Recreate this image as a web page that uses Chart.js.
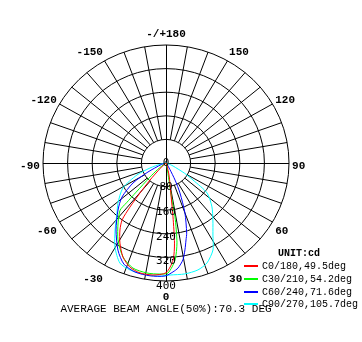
<!DOCTYPE html>
<html>
<head>
<meta charset="utf-8">
<script src="https://cdn.jsdelivr.net/npm/chart.js@4.4.1/dist/chart.umd.min.js"></script>
<style>
  html, body { margin: 0; padding: 0; background: #fff; }
  canvas { display: block; }
</style>
</head>
<body>
<canvas id="chart" width="362" height="342"></canvas>
<script>
// intensity in cd against gamma angle; 0 = straight down, -90 left, +90 right
const redAngles = [-90, -55, -46, -42, -39.8, -38.1, -36.5, -33.4, -28.9, -23.7, -18.4, -12.8, -6.4, 0, 4, 5.8, 7.1, 8.5, 10.5, 13.5, 20, 90];
const redValues = [0, 3, 25, 78, 132, 190, 240, 272, 310, 348, 372, 382, 382, 372, 330, 273, 184, 110, 70, 42, 10, 0];

const greenAngles = [-90, -58, -51, -47.6, -44.5, -43.6, -43.0, -37.5, -30.9, -23.7, -16.8, -9.4, -3, 1, 5.1, 7.5, 9.1, 8.8, 9.2, 14, 90];
const greenValues = [0, 5, 35, 70, 139, 186, 219, 256, 304, 348, 372, 378, 377, 373, 330, 273, 185, 120, 60, 12, 0];

const blueAngles = [-90, -72, -62.5, -57.7, -51.1, -44.4, -35.6, -27.9, -21.8, -15.3, -7.7, -0.5, 3.5, 6.3, 9.5, 11.8, 14, 15.8, 20, 24.1, 27, 30, 40, 90];
const blueValues = [0, 15, 66, 127, 184, 223, 279, 334, 369, 383, 386, 383, 370, 358, 333, 301, 269, 247, 180, 111, 65, 25, 5, 0];

const cyanAngles = [-90, -80, -71.9, -66.7, -58.8, -49, -43.2, -36.1, -30.2, -23.8, -17.9, -11.2, -2.9, 2, 9.3, 16, 21.5, 27.4, 32, 38.3, 45.1, 52.7, 56.7, 60, 66, 76, 90];
const cyanValues = [0, 15, 55, 103, 164, 207, 233, 281, 330, 371, 381, 384, 384, 380, 381, 377, 364, 332, 288, 246, 211, 168, 105, 70, 25, 5, 0];

const ringValues = [80, 160, 240, 320, 400];
const ringLabels = ["0", "80", "160", "240", "320", "400"];
const angleTicks = [0, 30, 60, 90, 120, 150, 180, -150, -120, -90, -60, -30];
const angleTickLabels = ["0", "30", "60", "90", "120", "150", "-/+180", "-150", "-120", "-90", "-60", "-30"];
const seriesLabels = ["C0/180,49.5deg", "C30/210,54.2deg", "C60/240,71.6deg", "C90/270,105.7deg"];
const seriesColors = ["#ff0000", "#00ff00", "#0000ff", "#00ffff"];
const unitLabel = "UNIT:cd";
const beamText = "AVERAGE BEAM ANGLE(50%):70.3 DEG";

const maxValue = ringValues[ringValues.length - 1];

const toXY = (angles, values) =>
  angles.map((a, i) => {
    const rad = (a * Math.PI) / 180;
    return { x: values[i] * Math.sin(rad), y: -values[i] * Math.cos(rad) };
  });

// pixel position of (angle, value) through the chart scales
const polarPx = (chart, angle, value) => {
  const rad = (angle * Math.PI) / 180;
  return {
    x: chart.scales.x.getPixelForValue(value * Math.sin(rad)),
    y: chart.scales.y.getPixelForValue(-value * Math.cos(rad)),
  };
};

const polarGrid = {
  id: "polarGrid",
  beforeDatasetsDraw(chart) {
    const { ctx, scales } = chart;
    const cx = scales.x.getPixelForValue(0);
    const cy = scales.y.getPixelForValue(0);
    ctx.save();
    ctx.strokeStyle = "#000";
    ctx.lineWidth = 1;

    ringValues.forEach((v) => {
      const rx = scales.x.getPixelForValue(v) - cx;
      const ry = cy - scales.y.getPixelForValue(v);
      ctx.beginPath();
      ctx.ellipse(cx, cy, rx, ry, 0, 0, Math.PI * 2);
      ctx.stroke();
    });

    // spokes every 10 deg, from the first ring out
    for (let a = -170; a <= 180; a += 10) {
      if (a % 90 === 0) continue;
      const p0 = polarPx(chart, a, ringValues[0]);
      const p1 = polarPx(chart, a, maxValue);
      ctx.beginPath();
      ctx.moveTo(p0.x, p0.y);
      ctx.lineTo(p1.x, p1.y);
      ctx.stroke();
    }

    // the two axes through the centre
    const ax = Math.round(cx) + 0.5;
    const ay = Math.round(cy) + 0.5;
    ctx.beginPath();
    ctx.moveTo(scales.x.getPixelForValue(-maxValue), ay);
    ctx.lineTo(scales.x.getPixelForValue(maxValue), ay);
    ctx.moveTo(ax, scales.y.getPixelForValue(maxValue));
    ctx.lineTo(ax, scales.y.getPixelForValue(-maxValue));
    ctx.stroke();
    ctx.restore();
  },
  afterDatasetsDraw(chart) {
    const { ctx, scales } = chart;
    const cx = scales.x.getPixelForValue(0);
    const cy = scales.y.getPixelForValue(0);
    ctx.save();
    ctx.fillStyle = "#000";

    // ring values down the 0 deg axis
    ctx.font = "11px 'DejaVu Sans Mono'";
    ctx.textAlign = "center";
    ctx.textBaseline = "middle";
    ringLabels.forEach((t, i) => {
      const v = i === 0 ? 0 : ringValues[i - 1];
      const off = scales.x.getPixelForValue(v) - cx;
      ctx.fillText(t, cx, cy + off);
    });

    // angle labels around the outside
    ctx.font = "bold 11px 'Liberation Mono'";
    angleTicks.forEach((a, i) => {
      const rad = (a * Math.PI) / 180;
      const s = Math.sin(rad);
      const c = Math.cos(rad);
      const px = cx + (scales.x.getPixelForValue(410) - cx) * s;
      const py = cy + 3 + (cy - scales.y.getPixelForValue(445)) * c;
      ctx.textAlign = s > 0.01 ? "left" : s < -0.01 ? "right" : "center";
      ctx.fillText(angleTickLabels[i], px, py);
    });
    ctx.restore();
  },
  afterDraw(chart) {
    const { ctx, scales } = chart;
    const cx = scales.x.getPixelForValue(0);
    ctx.save();
    ctx.fillStyle = "#000";
    ctx.textBaseline = "middle";

    ctx.font = "bold 10px 'Liberation Mono'";
    ctx.textAlign = "left";
    ctx.fillText(unitLabel, 278, 253);

    ctx.font = "10px 'Liberation Mono'";
    seriesLabels.forEach((t, i) => {
      const y = Math.round(265 + i * 12.75);
      ctx.fillStyle = seriesColors[i];
      ctx.fillRect(244, y, 14, 2);
      ctx.fillStyle = "#000";
      ctx.fillText(t, 262, y + 1);
    });

    ctx.font = "11px 'Liberation Mono'";
    ctx.textAlign = "center";
    ctx.fillText(beamText, cx, 309);
    ctx.restore();
  },
};

const series = [
  [redAngles, redValues],
  [greenAngles, greenValues],
  [blueAngles, blueValues],
  [cyanAngles, cyanValues],
];

new Chart(document.getElementById("chart"), {
  type: "scatter",
  data: {
    datasets: series.map(([ang, val], i) => ({
      label: seriesLabels[i],
      data: toXY(ang, val),
      showLine: true,
      borderColor: seriesColors[i],
      borderWidth: 1,
      pointRadius: 0,
      tension: 0.25,
      fill: false,
    })),
  },
  options: {
    responsive: false,
    animation: false,
    layout: { padding: { left: 43, right: 73, top: 45, bottom: 61 } },
    scales: {
      x: { type: "linear", min: -maxValue, max: maxValue, display: false },
      y: { type: "linear", min: -maxValue, max: maxValue, display: false },
    },
    plugins: {
      legend: { display: false },
      tooltip: { enabled: false },
    },
  },
  plugins: [polarGrid],
});
</script>
</body>
</html>
